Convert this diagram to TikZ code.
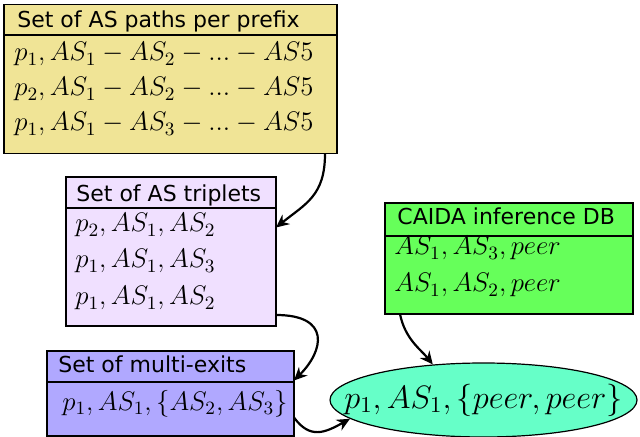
\RequirePackage{fix-cm}
\documentclass[tikz,border=0pt]{standalone}
\usepackage{fontspec}
\newfontfamily\dv{DejaVu Sans}
\usetikzlibrary{arrows.meta,shapes.geometric}
\definecolor{cone}{RGB}{240,228,150}
\definecolor{ctwo}{RGB}{240,224,255}
\definecolor{cthree}{RGB}{176,168,255}
\definecolor{cfour}{RGB}{102,255,90}
\definecolor{cfive}{RGB}{102,255,200}
\tikzset{
  box/.style={draw=black, line width=0.6pt, rectangle, inner sep=0pt, outer sep=0pt, anchor=north west},
  ttl/.style={anchor=base west, inner sep=0pt, font=\dv\fontsize{11}{13}\selectfont},
  mth/.style={anchor=base west, inner sep=0pt, font=\fontsize{13.4}{16}\selectfont},
  conn/.style={draw=black, line width=1.1pt, -{Stealth[length=6.5pt,width=6pt]}},
  sep/.style={draw=black, line width=0.6pt}
}
\begin{document}
\begin{tikzpicture}[x=0.5pt,y=-0.5pt]
\useasboundingbox (0,0) rectangle (640,437);
% box 1
\node[box, fill=cone, minimum width=166.5pt, minimum height=74.5pt] (b1) at (4,4.5) {};
\draw[sep] (4,35) -- (337,35);
\node[ttl] (t1) at (17,28) {Set of AS paths per prefix};
\node[mth] (l11) at (14,61) {$p_1, AS_1 - AS_2 - ... - AS5$};
\node[mth] (l12) at (14,96) {$p_2, AS_1 - AS_2 - ... - AS5$};
\node[mth] (l13) at (14,131) {$p_1, AS_1 - AS_3 - ... - AS5$};
% box 2
\node[box, fill=ctwo, minimum width=105pt, minimum height=74.5pt] (b2) at (66,177) {};
\draw[sep] (66,208) -- (276,208);
\node[ttl] (t2) at (76,202) {Set of AS triplets};
\node[mth] (l21) at (75,232) {$p_2, AS_1, AS_2$};
\node[mth] (l22) at (75,268) {$p_1, AS_1, AS_3$};
\node[mth] (l23) at (75,305) {$p_1, AS_1, AS_2$};
% box 3
\node[box, fill=cthree, minimum width=123.5pt, minimum height=42.5pt] (b3) at (47,351) {};
\draw[sep] (47,382) -- (294,382);
\node[ttl] (t3) at (58,372) {Set of multi-exits};
\node[mth] (l31) at (62,410) {$p_1, AS_1, \{AS_2, AS_3\}$};
% box 4
\node[box, fill=cfour, minimum width=124pt, minimum height=55.5pt] (b4) at (385,203) {};
\draw[sep] (385,236) -- (633,236);
\node[ttl] (t4) at (397,225) {CAIDA inference DB};
\node[mth] (l41) at (394,255) {$AS_1, AS_3, peer$};
\node[mth] (l42) at (394,292) {$AS_1, AS_2, peer$};
% ellipse
\node[ellipse, draw=black, line width=0.6pt, fill=cfive, minimum width=153.5pt, minimum height=37pt, inner sep=0pt] (e) at (483.5,400) {};
\node[inner sep=0pt, font=\fontsize{16.2}{20}\selectfont] (et) at (e.center) {$p_1, AS_1, \{peer, peer\}$};
% connectors
\draw[conn] ([xshift=-6pt]b1.south east) .. controls +(0,42) and +(30,-24) .. ([yshift=12pt]b2.east);
\draw[conn] ([yshift=5.5pt]b2.south east) .. controls +(55,0) and +(30,-30) .. ([yshift=6.5pt]b3.east);
\draw[conn] ([yshift=-12pt]b3.east) .. controls +(16,22) and +(-25,14) .. (e.188);
\draw[conn] ([xshift=7.5pt]b4.south west) .. controls +(5,25) and +(-12,-15) .. (e.145);
\end{tikzpicture}
\end{document}
